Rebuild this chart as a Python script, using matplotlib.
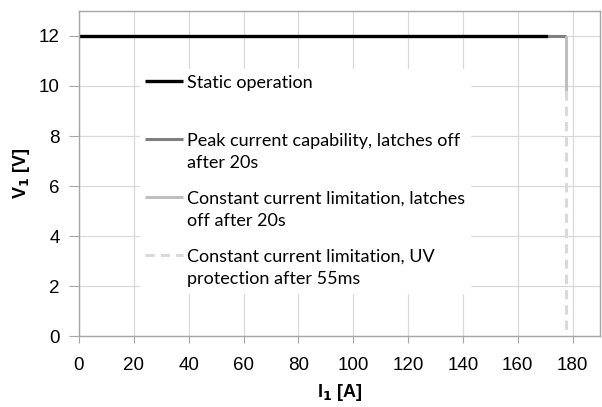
import matplotlib.pyplot as plt

# data
static_i = [0, 171]
static_v = [12, 12]
peak_i = [171, 177.5]
peak_v = [12, 12]
latch_i = [177.5, 177.5]
latch_v = [12, 9.8]
uv_i = [177.5, 177.5]
uv_v = [9.8, 0]

# first entry gets an empty second line so all legend rows are the same height
labels = ["Static operation\n ",
          "Peak current capability, latches off\nafter 20s",
          "Constant current limitation, latches\noff after 20s",
          "Constant current limitation, UV\nprotection after 55ms"]

x_ticks = list(range(0, 181, 20))
y_ticks = list(range(0, 13, 2))

plt.rcParams['font.family'] = ['Liberation Sans', 'DejaVu Sans']

fig = plt.figure(figsize=(6.02, 4.07), dpi=100)
ax = fig.add_axes([0.1312, 0.1744, 0.8655, 0.7986])

ax.plot(static_i, static_v, color='black', lw=2.4, label=labels[0], solid_capstyle='butt')
ax.plot(peak_i, peak_v, color='#7f7f7f', lw=2.2, label=labels[1], solid_capstyle='butt')
ax.plot(latch_i, latch_v, color='#bfbfbf', lw=2.2, label=labels[2], solid_capstyle='butt')
ax.plot(uv_i, uv_v, color='#d9d9d9', lw=2.2, ls=(0, (3, 2)), label=labels[3])

ax.set_xlim(0, 190)
ax.set_ylim(0, 13)
ax.set_xticks(x_ticks)
ax.set_yticks(y_ticks)
ax.grid(True, color='#d9d9d9', lw=0.9)
ax.set_axisbelow(True)
for s in ax.spines.values():
    s.set_color('#a6a6a6')
    s.set_linewidth(1)
ax.tick_params(axis='both', colors='#a6a6a6', labelcolor='black', labelsize=13.5)
ax.tick_params(axis='y', length=7, pad=7)
ax.tick_params(axis='x', length=5, pad=10)

ax.set_xlabel("I$_\\mathbf{1}$ [A]", fontsize=13, fontweight='bold', labelpad=6)
ax.set_ylabel("V$_\\mathbf{1}$ [V]", fontsize=13, fontweight='bold', labelpad=5)

leg = ax.legend(loc='upper left', bbox_to_anchor=(0.117, 0.82),
                frameon=True, fancybox=False, edgecolor='white', framealpha=1,
                borderaxespad=0, borderpad=0.3, handlelength=2.1, handletextpad=0.2,
                labelspacing=1.08, prop={'family': 'Lato', 'size': 13})
for t in leg.get_texts():
    t.set_linespacing(1.5)

# put the handle level with the first line of its label
for ln in leg.get_lines():
    y = ln.get_ydata()
    ln.set_ydata([v + 9.5 for v in y])

fig.savefig('out.png', dpi=100)
